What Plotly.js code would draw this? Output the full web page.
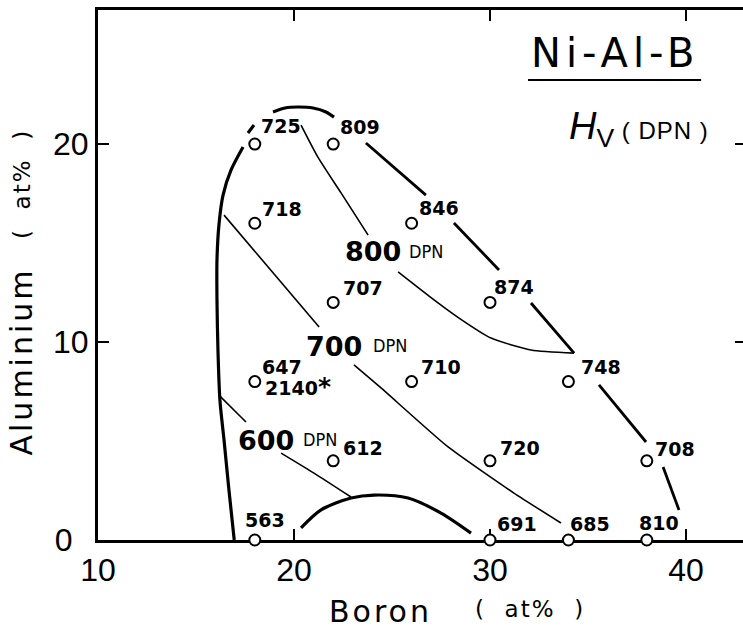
<!DOCTYPE html>
<html><head><meta charset="utf-8">
<script src="https://cdn.plot.ly/plotly-3.0.1.min.js"></script>
<style>html,body{margin:0;padding:0;overflow:hidden;background:#fff}</style>
</head><body><div id="chart" style="width:760px;height:632px"></div>
<script>
// ---- measured points: Boron (at%) vs Aluminium (at%) and hardness Hv (DPN)
const boronAt = [18, 22, 18, 26, 22, 30, 18, 26, 34, 22, 30, 38, 18, 30, 34, 38];
const aluminiumAt = [20, 20, 16, 16, 12, 12, 8, 8, 8, 4, 4, 4, 0, 0, 0, 0];
const hardnessLabels = ['725', '809', '718', '846', '707', '874', '647', '710', '748', '612', '720', '708', '563', '691', '685', '810'];
const extraLabel = '2140<span style="font-size:25px">*</span>';   // second value at (18, 8)
const extraLabelIndex = 6;

// ---- curves (null = break in the drawn line)
const leftBoundaryX = [16.95, 16.68, 16.43, 16.22, 16.12, 16.07, 16.07, 16.17, 16.38, 16.79, 17.40, null, 17.65, 17.96];
const leftBoundaryY = [0, 2.53, 5.05, 7.07, 9.60, 12.12, 14.14, 15.91, 17.42, 18.69, 19.85, null, 20.56, 20.96];
const topArcX = [18.93, 19.54, 20.20, 20.97, 21.63, 22.04];
const topArcY = [21.62, 21.82, 21.87, 21.82, 21.62, 21.36];
const rightBoundaryX = [23.67, 26.73, null, 28.16, 30.46, null, 32.09, 34.29, null, 35.56, 37.96, null, 38.83, 39.64];
const rightBoundaryY = [20.05, 17.42, null, 16.01, 13.64, null, 11.97, 9.44, null, 7.83, 4.95, null, 3.69, 1.52];
const bottomArcX = [20.36, 21.38, 22.91, 24.08, 25.82, 27.50, 29.03];
const bottomArcY = [0.61, 1.52, 2.12, 2.27, 2.12, 1.36, 0.35];
const contour800X = [20.36, 21.22, 22.40, 23.78, null, 25.31, 26.89, 28.42, 30.05, 32.09, 34.29];
const contour800Y = [20.96, 19.34, 17.53, 15.40, null, 13.54, 12.32, 11.21, 10.20, 9.60, 9.44];
const contour700X = [16.43, 21.28, null, 23.06, 24.44, 27.86, 31.22, 33.62];
const contour700Y = [16.41, 10.76, null, 8.84, 7.68, 4.70, 2.37, 0.86];
const contour600X = [16.22, 17.55, null, 19.34, 21.02, 22.91];
const contour600Y = [7.27, 5.96, null, 4.39, 3.38, 2.17];
const contourLevels = ['800', '700', '600'];

// ---- tick labels
const xTicks = [10, 20, 30, 40];
const yTicks = [0, 10, 20];
const yTickText = ['0\u2002', '10', '20'];

// ---- layout-only helpers (pixel offsets of the value labels)
const labelDX = [4, 5, 5, 5, 8, 2, 5, 7, 11, 8, 8, 6, -12, 5, 0, -10];
const labelDY = [18, 17, 14, 15, 14, 15, 15, 15, 15, 13, 13, 12, 20, 16, 16, 17];

const BLACK = '#000';
function lineTrace(x, y, w, shape, sm) {
  return {x: x, y: y, type: 'scatter', mode: 'lines', connectgaps: false,
    line: {color: BLACK, width: w, shape: shape || 'spline', smoothing: sm === undefined ? 0.8 : sm},
    hoverinfo: 'skip', showlegend: false, cliponaxis: false};
}
const traces = [
  lineTrace(leftBoundaryX, leftBoundaryY, 3.2),
  lineTrace(topArcX, topArcY, 3.2),
  lineTrace(rightBoundaryX, rightBoundaryY, 2.8, 'linear'),
  lineTrace(bottomArcX, bottomArcY, 3.2),
  lineTrace(contour800X, contour800Y, 1.6, 'spline', 0.6),
  lineTrace(contour700X, contour700Y, 1.6, 'spline', 0.5),
  lineTrace(contour600X, contour600Y, 1.6, 'spline', 0.5),
  {x: boronAt, y: aluminiumAt, type: 'scatter', mode: 'markers', showlegend: false,
    cliponaxis: false, hoverinfo: 'skip',
    marker: {symbol: 'circle', size: 11, color: '#fff', line: {color: BLACK, width: 2}}}
];

const labelFont = {family: 'DejaVu Sans', size: 19, color: BLACK, weight: 'bold'};
const annotations = hardnessLabels.map((t, i) => ({
  x: boronAt[i], y: aluminiumAt[i], xref: 'x', yref: 'y', text: t, showarrow: false,
  xanchor: 'left', yanchor: 'middle', xshift: labelDX[i], yshift: labelDY[i], font: labelFont
}));
annotations.push({x: boronAt[extraLabelIndex], y: aluminiumAt[extraLabelIndex], xref: 'x', yref: 'y',
  text: extraLabel, showarrow: false, xanchor: 'left', yanchor: 'middle', xshift: 8, yshift: -5, font: labelFont});

// contour level labels
const levelPos = [[25.56, 14.55, 25.77, 14.55], [23.57, 9.75, 23.95, 9.80], [20.10, 5.05, 20.36, 5.10]];
contourLevels.forEach((lv, i) => {
  const p = levelPos[i];
  annotations.push({x: p[0], y: p[1], xref: 'x', yref: 'y', text: lv, showarrow: false,
    xanchor: 'right', yanchor: 'middle', font: {family: 'DejaVu Sans', size: 27, color: BLACK, weight: 'bold'}});
  annotations.push({x: p[2], y: p[3], xref: 'x', yref: 'y', text: 'DPN', showarrow: false,
    xanchor: 'left', yanchor: 'middle', font: {family: 'Liberation Sans Narrow, DejaVu Sans Condensed', size: 18, color: BLACK}});
});

// titles
annotations.push({x: 31.99, y: 24.6, xref: 'x', yref: 'y', text: '<span style="letter-spacing:5px">Ni-Al-B</span>',
  showarrow: false, xanchor: 'left', yanchor: 'middle', font: {family: 'DejaVu Sans', size: 40, color: BLACK}});
annotations.push({x: 33.95, y: 20.75, xref: 'x', yref: 'y',
  text: '<i>H</i><sub>V</sub><span style="font-size:24px;letter-spacing:1px"> ( DPN )</span>',
  showarrow: false, xanchor: 'left', yanchor: 'middle', font: {family: 'Liberation Sans', size: 38, color: BLACK}});
annotations.push({x: 0.4367, y: -0.134, xref: 'paper', yref: 'paper', text: '<span style="letter-spacing:3px">Boron</span>',
  showarrow: false, xanchor: 'center', yanchor: 'middle', font: {family: 'DejaVu Sans', size: 30, color: BLACK}});
annotations.push({x: 0.6667, y: -0.130, xref: 'paper', yref: 'paper', text: '<span style="letter-spacing:2px">(  at%  )</span>',
  showarrow: false, xanchor: 'center', yanchor: 'middle', font: {family: 'DejaVu Sans', size: 23, color: BLACK}});
annotations.push({x: -0.1173, y: 0.3368, xref: 'paper', yref: 'paper', text: '<span style="letter-spacing:3px">Aluminium</span>',
  showarrow: false, textangle: -90, xanchor: 'center', yanchor: 'middle', font: {family: 'DejaVu Sans', size: 30, color: BLACK}});
annotations.push({x: -0.1173, y: 0.6717, xref: 'paper', yref: 'paper', text: '<span style="letter-spacing:2px">(  at%  )</span>',
  showarrow: false, textangle: -90, xanchor: 'center', yanchor: 'middle', font: {family: 'DejaVu Sans', size: 23, color: BLACK}});

const axisCommon = {
  showline: true, linewidth: 3, linecolor: BLACK, mirror: 'ticks', ticks: 'inside', ticklen: 11,
  tickwidth: 2, tickcolor: BLACK, showgrid: false, zeroline: false, layer: 'below traces',
  tickfont: {family: 'Liberation Sans', size: 32, color: BLACK}, fixedrange: true
};
const layout = {
  width: 760, height: 632, margin: {l: 98, r: 14, t: 10, b: 92},
  paper_bgcolor: '#fff', plot_bgcolor: '#fff', showlegend: false,
  xaxis: Object.assign({}, axisCommon, {range: [10, 43.06], tickmode: 'array', tickvals: xTicks, ticktext: xTicks.map(String)}),
  yaxis: Object.assign({}, axisCommon, {range: [0, 26.77], tickmode: 'array', tickvals: yTicks, ticktext: yTickText}),
  annotations: annotations,
  shapes: [{type: 'line', xref: 'x', yref: 'y', x0: 31.94, x1: 40.77, y0: 23.23, y1: 23.23, line: {color: BLACK, width: 2}}]
};
Plotly.newPlot('chart', traces, layout, {displayModeBar: false, staticPlot: true});
</script></body></html>
